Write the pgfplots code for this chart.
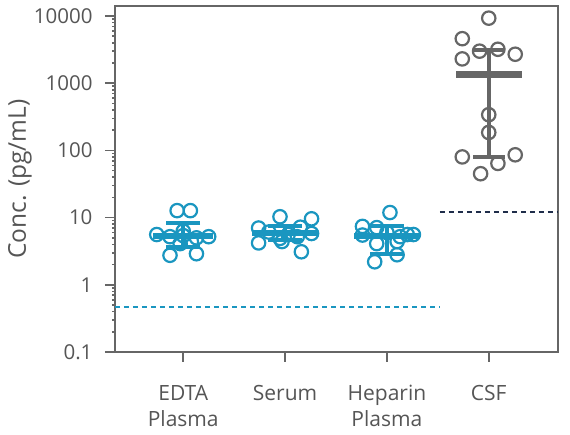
\documentclass[border=0pt]{standalone}
\usepackage{pgfplots}
\pgfplotsset{compat=1.18}
\usepackage{fontspec}
\setmainfont{Open Sans}
\definecolor{cblue}{HTML}{1A96C0}
\definecolor{cgray}{HTML}{666666}
\definecolor{tgray}{HTML}{555555}
\definecolor{cnavy}{HTML}{1F2D4A}
\begin{document}
\begin{tikzpicture}
\begin{axis}[
  scale only axis,
  width=443pt, height=346pt,
  ymode=log,
  xmin=-0.67, xmax=3.68,
  ymin=0.1, ymax=14100,
  axis line style={cgray, line width=1.6pt},
  tick style={cgray, line width=1.6pt},
  tick align=outside,
  major tick length=10pt,
  xtick pos=bottom, ytick pos=left,
  minor tick num=0,
  log ticks with fixed point,
  ytick={0.1,1,10,100,1000,10000},
  yticklabels={0.1,1,10,100,1000,10000},
  xtick={0,1,2,3},
  xticklabels={{EDTA\\Plasma},{Serum},{Heparin\\Plasma},{CSF}},
  xticklabel style={align=center, font=\fontsize{21}{26}\selectfont, text=tgray, yshift=-20pt},
  yticklabel style={font=\fontsize{20.5}{24}\selectfont, text=tgray, xshift=-9pt},
  /pgf/number format/assume math mode=true,
  ylabel={Conc. (pg/mL)},
  every axis y label/.style={at={(axis description cs:-0.2144,0.5)}, rotate=90, anchor=center, font=\fontsize{24.5}{28}\selectfont, text=tgray},
  clip=false,
]
% limit lines
\addplot[cblue, line width=2pt, dash pattern=on 5pt off 4pt] coordinates {(-0.67,0.47) (2.52,0.47)};
\addplot[cnavy, line width=2pt, dash pattern=on 5pt off 4pt] coordinates {(2.52,12.3) (3.68,12.3)};
% EDTA plasma
\addplot[cblue, line width=4pt] coordinates {(0,3.6) (0,8.4)};
\addplot[cblue, only marks, mark=-, mark size=17pt, mark options={line width=4pt}] coordinates {(0,3.6) (0,8.4)};
\addplot[cblue, only marks, mark=-, mark size=30pt, mark options={line width=6pt}] coordinates {(0,5.3)};
\addplot[cblue, only marks, mark=o, mark size=6.7pt, mark options={line width=2.2pt}] coordinates {
(-0.06,12.7) (0.07,12.7) (-0.26,5.6) (-0.13,5.2) (0,5.4) (0.13,5.0) (0.25,5.2) (-0.03,4.1) (0.08,4.4) (-0.13,2.75) (0.13,2.9) (0,6.3)};
% Serum
\addplot[cblue, line width=4pt] coordinates {(1,4.6) (1,7.6)};
\addplot[cblue, only marks, mark=-, mark size=17pt, mark options={line width=4pt}] coordinates {(1,4.6) (1,7.6)};
\addplot[cblue, only marks, mark=-, mark size=33pt, mark options={line width=6pt}] coordinates {(1,5.9)};
\addplot[cblue, only marks, mark=o, mark size=6.7pt, mark options={line width=2.2pt}] coordinates {
(0.95,10.3) (1.26,9.6) (0.74,7.0) (1.15,7.2) (0.84,6.1) (1.03,5.6) (1.12,5.2) (0.95,4.9) (0.74,4.2) (0.97,4.4) (1.16,3.1) (1.26,5.8)};
% Heparin plasma
\addplot[cblue, line width=4pt] coordinates {(2,2.9) (2,7.6)};
\addplot[cblue, only marks, mark=-, mark size=17pt, mark options={line width=4pt}] coordinates {(2,2.9) (2,7.6)};
\addplot[cblue, only marks, mark=-, mark size=33pt, mark options={line width=6pt}] coordinates {(2,5.3)};
\addplot[cblue, only marks, mark=o, mark size=6.7pt, mark options={line width=2.2pt}] coordinates {
(2.03,11.9) (1.76,7.4) (1.9,7.1) (2.26,5.6) (2.13,5.2) (2.0,6.0) (1.9,4.1) (2.1,4.4) (2.1,2.8) (1.88,2.2) (1.76,5.5) (2.2,5.6)};
% CSF
\addplot[cgray, line width=4pt] coordinates {(3,81) (3,3100)};
\addplot[cgray, only marks, mark=-, mark size=16pt, mark options={line width=4pt}] coordinates {(3,81) (3,3100)};
\addplot[cgray, only marks, mark=-, mark size=33pt, mark options={line width=7pt}] coordinates {(3,1360)};
\addplot[cgray, only marks, mark=o, mark size=6.7pt, mark options={line width=2.2pt}] coordinates {
(3,9300) (2.74,4600) (2.74,2300) (2.91,3000) (3.09,3200) (3.26,2700) (3,340) (3,185) (2.74,80) (3.26,86) (3.09,64) (2.92,45)};
\end{axis}
\pgfresetboundingbox
\path[use as bounding box] ([xshift=-115pt,yshift=-83pt]current axis.south west) rectangle ([xshift=12pt,yshift=6pt]current axis.north east);
\end{tikzpicture}
\end{document}
